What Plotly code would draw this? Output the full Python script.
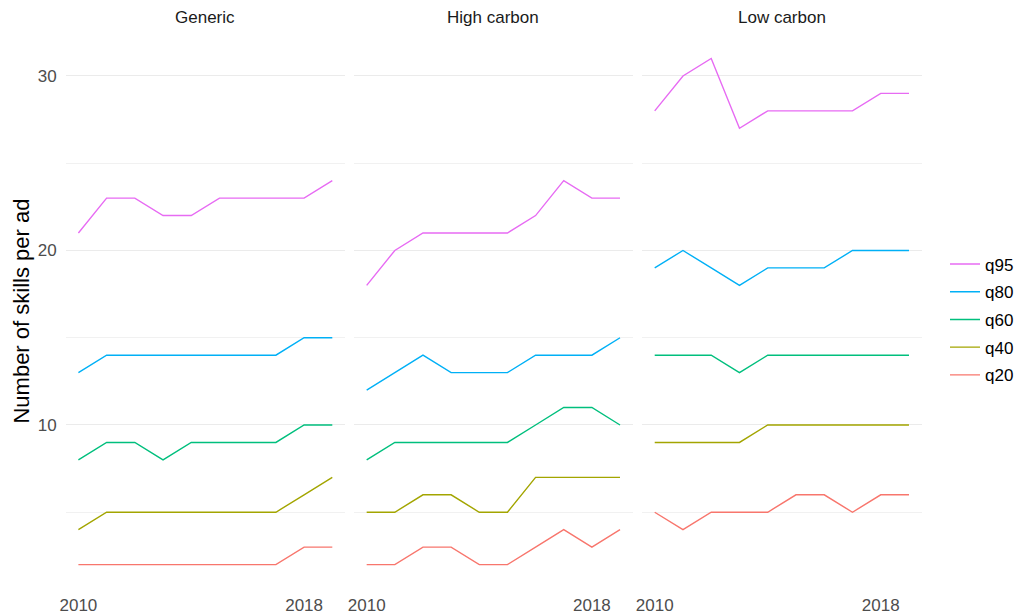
import plotly.graph_objects as go

years = [2010, 2011, 2012, 2013, 2014, 2015, 2016, 2017, 2018, 2019]
facets = ["Generic", "High carbon", "Low carbon"]
quantiles = ["q20", "q40", "q60", "q80", "q95"]

generic_q20 = [2, 2, 2, 2, 2, 2, 2, 2, 3, 3]
generic_q40 = [4, 5, 5, 5, 5, 5, 5, 5, 6, 7]
generic_q60 = [8, 9, 9, 8, 9, 9, 9, 9, 10, 10]
generic_q80 = [13, 14, 14, 14, 14, 14, 14, 14, 15, 15]
generic_q95 = [21, 23, 23, 22, 22, 23, 23, 23, 23, 24]

high_q20 = [2, 2, 3, 3, 2, 2, 3, 4, 3, 4]
high_q40 = [5, 5, 6, 6, 5, 5, 7, 7, 7, 7]
high_q60 = [8, 9, 9, 9, 9, 9, 10, 11, 11, 10]
high_q80 = [12, 13, 14, 13, 13, 13, 14, 14, 14, 15]
high_q95 = [18, 20, 21, 21, 21, 21, 22, 24, 23, 23]

low_q20 = [5, 4, 5, 5, 5, 6, 6, 5, 6, 6]
low_q40 = [9, 9, 9, 9, 10, 10, 10, 10, 10, 10]
low_q60 = [14, 14, 14, 13, 14, 14, 14, 14, 14, 14]
low_q80 = [19, 20, 19, 18, 19, 19, 19, 20, 20, 20]
low_q95 = [28, 30, 31, 27, 28, 28, 28, 28, 29, 29]

y_ticks = [10, 20, 30]
y_minor = [5, 15, 25]
x_ticks = [2010, 2018]
x_ticklabels = ["2010", "2018"]

colors = {"q20": "#F8766D", "q40": "#A3A500", "q60": "#00BF7D",
          "q80": "#00B0F6", "q95": "#E76BF3"}

facet_data = [
    {"q20": generic_q20, "q40": generic_q40, "q60": generic_q60, "q80": generic_q80, "q95": generic_q95},
    {"q20": high_q20, "q40": high_q40, "q60": high_q60, "q80": high_q80, "q95": high_q95},
    {"q20": low_q20, "q40": low_q40, "q60": low_q60, "q80": low_q80, "q95": low_q95},
]

W, H = 1018, 616
FONT = "Liberation Sans, Arial, sans-serif"

x_domains = [(65.7 / W, 345 / W), (354 / W, 632.7 / W), (642 / W, 921.7 / W)]
y_domain = (1 - 589.9 / H, 1 - 33.2 / H)

all_vals = [v for d in facet_data for q in quantiles for v in d[q]]
ymin, ymax = min(all_vals), max(all_vals)
ypad = (ymax - ymin) * 0.05
y_range = [ymin - ypad, ymax + ypad]
x_range = [years[0] - 0.05 * (years[-1] - years[0]), years[-1] + 0.05 * (years[-1] - years[0])]

fig = go.Figure()
for i, d in enumerate(facet_data):
    xa = "x" if i == 0 else f"x{i+1}"
    ya = "y" if i == 0 else f"y{i+1}"
    for rank, q in enumerate(quantiles):
        fig.add_trace(go.Scatter(
            x=years, y=d[q], mode="lines", name=q,
            line=dict(color=colors[q], width=1.4),
            xaxis=xa, yaxis=ya, legendgroup=q, showlegend=(i == 0),
            legendrank=100 - rank, hoverinfo="skip",
        ))

layout = dict(
    template="none",
    width=W, height=H, margin=dict(l=0, r=0, t=0, b=0, autoexpand=False),
    paper_bgcolor="white", plot_bgcolor="white",
    font=dict(family=FONT, size=17, color="#4D4D4D"),
    legend=dict(x=945 / W, xanchor="left", y=1 - 319.5 / H, yanchor="middle",
                font=dict(size=17, color="#000000"), tracegroupgap=2.6,
                bgcolor="rgba(0,0,0,0)", borderwidth=0, itemwidth=30),
    showlegend=True,
)
for i in range(3):
    sx = "" if i == 0 else str(i + 1)
    layout["xaxis" + sx] = dict(
        domain=list(x_domains[i]), range=x_range, anchor="y" + sx,
        tickvals=x_ticks, ticktext=x_ticklabels, showgrid=False, zeroline=False,
        showline=False, ticks="", ticklabelstandoff=3, automargin=False,
        tickfont=dict(size=17, color="#4D4D4D"), fixedrange=True,
    )
    layout["yaxis" + sx] = dict(
        domain=list(y_domain), range=y_range, anchor="x" + sx,
        tickvals=y_ticks, showticklabels=(i == 0), showgrid=True,
        gridcolor="#EBEBEB", gridwidth=1.1, zeroline=False, showline=False,
        ticks="", ticklabelstandoff=8, automargin=False,
        tickfont=dict(size=17, color="#4D4D4D"),
        minor=dict(tickvals=y_minor, showgrid=True, gridcolor="#F1F1F1", gridwidth=0.8),
        fixedrange=True,
    )
fig.update_layout(**layout)

annotations = []
for i, name in enumerate(facets):
    annotations.append(dict(
        text=name, x=(x_domains[i][0] + x_domains[i][1]) / 2, y=1 - 17 / H,
        xref="paper", yref="paper", xanchor="center", yanchor="middle",
        showarrow=False, font=dict(family=FONT, size=17, color="#1A1A1A"),
    ))
annotations.append(dict(
    text="Number of skills per ad", x=22 / W, y=(y_domain[0] + y_domain[1]) / 2,
    xref="paper", yref="paper", xanchor="center", yanchor="middle",
    textangle=-90, showarrow=False, font=dict(family=FONT, size=22, color="#000000"),
))
fig.update_layout(annotations=annotations)

fig.write_html(
    "out.html",
    config={"displayModeBar": False},
    post_script="document.body.style.margin='0px';document.body.style.overflow='hidden';",
)
